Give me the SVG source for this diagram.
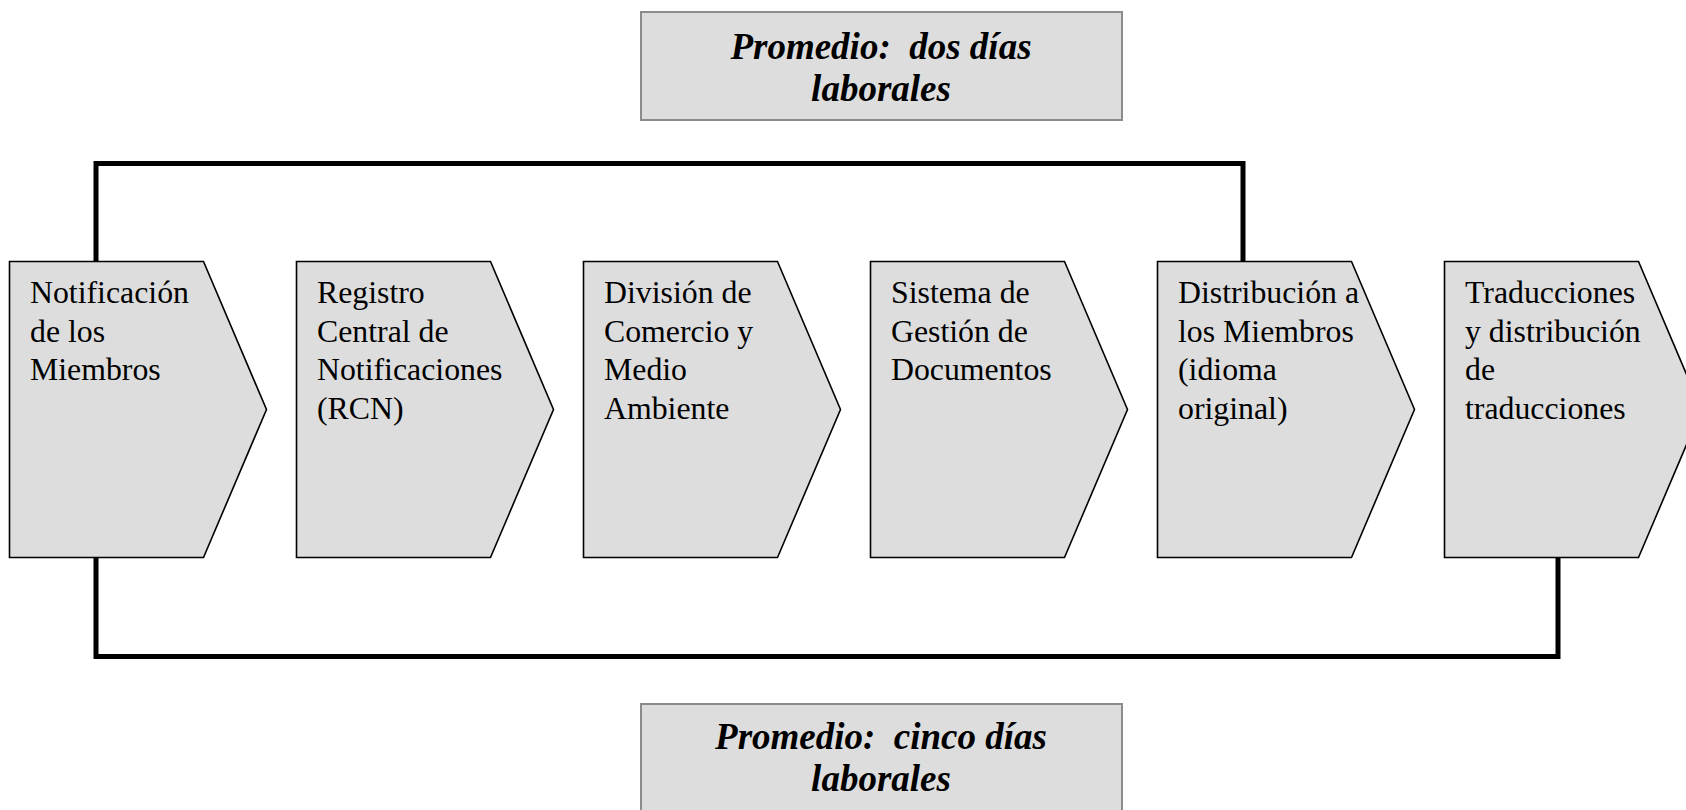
<svg xmlns="http://www.w3.org/2000/svg" width="1686" height="810" viewBox="0 0 1686 810">
<style>
.bg{fill:#ffffff}
.node{fill:#dddddd;stroke:#000000;stroke-width:1.6;stroke-linejoin:miter}
.box{fill:#dddddd;stroke:#8c8c8c;stroke-width:2}
.lbl{font-family:"Liberation Serif","Times New Roman",serif;font-size:31.8px;fill:#000000}
.avg{font-family:"Liberation Serif","Times New Roman",serif;font-size:37px;font-weight:bold;font-style:italic;fill:#000000;text-anchor:middle}
.conn{fill:none;stroke:#000000;stroke-width:5;stroke-linejoin:miter;stroke-linecap:square}
</style>
<rect class="bg" x="0" y="0" width="1686" height="810"/>
<g id="connectors">
<path class="conn" d="M96,259 V163.5 H1243 V259"/>
<path class="conn" d="M96,560 V656.5 H1558 V560"/>
</g>
<g id="avg-top">
<rect class="box" x="641" y="12" width="481" height="108"/>
<text class="avg" xml:space="preserve"><tspan x="881" y="59">Promedio:  dos días</tspan><tspan x="881" y="101">laborales</tspan></text>
</g>
<g id="avg-bottom">
<rect class="box" x="641" y="704" width="481" height="120"/>
<text class="avg" xml:space="preserve"><tspan x="881" y="749">Promedio:  cinco días</tspan><tspan x="881" y="791">laborales</tspan></text>
</g>
<g id="n1">
<polygon class="node" points="9.5,261.5 203.5,261.5 266.5,409.5 203.5,557.5 9.5,557.5"/>
<text class="lbl"><tspan x="30" y="303">Notificación</tspan><tspan x="30" y="341.5">de los</tspan><tspan x="30" y="380">Miembros</tspan></text>
</g>
<g id="n2">
<polygon class="node" points="296.5,261.5 490.5,261.5 553.5,409.5 490.5,557.5 296.5,557.5"/>
<text class="lbl"><tspan x="317" y="303">Registro</tspan><tspan x="317" y="341.5">Central de</tspan><tspan x="317" y="380">Notificaciones</tspan><tspan x="317" y="418.5">(RCN)</tspan></text>
</g>
<g id="n3">
<polygon class="node" points="583.5,261.5 777.5,261.5 840.5,409.5 777.5,557.5 583.5,557.5"/>
<text class="lbl"><tspan x="604" y="303">División de</tspan><tspan x="604" y="341.5">Comercio y</tspan><tspan x="604" y="380">Medio</tspan><tspan x="604" y="418.5">Ambiente</tspan></text>
</g>
<g id="n4">
<polygon class="node" points="870.5,261.5 1064.5,261.5 1127.5,409.5 1064.5,557.5 870.5,557.5"/>
<text class="lbl"><tspan x="891" y="303">Sistema de</tspan><tspan x="891" y="341.5">Gestión de</tspan><tspan x="891" y="380">Documentos</tspan></text>
</g>
<g id="n5">
<polygon class="node" points="1157.5,261.5 1351.5,261.5 1414.5,409.5 1351.5,557.5 1157.5,557.5"/>
<text class="lbl"><tspan x="1178" y="303">Distribución a</tspan><tspan x="1178" y="341.5">los Miembros</tspan><tspan x="1178" y="380">(idioma</tspan><tspan x="1178" y="418.5">original)</tspan></text>
</g>
<g id="n6">
<polygon class="node" points="1444.5,261.5 1638.5,261.5 1701.5,409.5 1638.5,557.5 1444.5,557.5"/>
<text class="lbl"><tspan x="1465" y="303">Traducciones</tspan><tspan x="1465" y="341.5">y distribución</tspan><tspan x="1465" y="380">de</tspan><tspan x="1465" y="418.5">traducciones</tspan></text>
</g>
</svg>
